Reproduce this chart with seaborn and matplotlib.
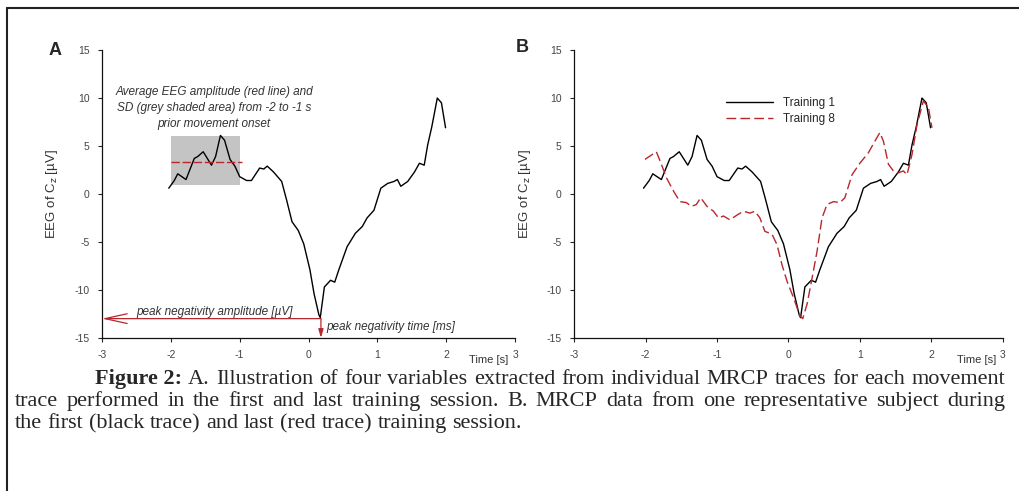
import numpy as np
import pandas as pd
import seaborn as sns
import matplotlib.pyplot as plt
from matplotlib.lines import Line2D

# MRCP trace, training session 1 (black)
t1_time = [-2.03, -1.95, -1.90, -1.78, -1.66, -1.61, -1.53, -1.41, -1.35, -1.28,
           -1.22, -1.14, -1.07, -1.00, -0.90, -0.83, -0.71, -0.65, -0.60, -0.51,
           -0.39, -0.32, -0.24, -0.15, -0.07, 0.02, 0.08, 0.15, 0.17, 0.23,
           0.32, 0.38, 0.44, 0.56, 0.68, 0.78, 0.85, 0.95, 1.05, 1.15,
           1.24, 1.29, 1.34, 1.44, 1.54, 1.61, 1.68, 1.73, 1.79, 1.87,
           1.93, 1.99]
t1_eeg = [0.6, 1.4, 2.1, 1.5, 3.7, 3.9, 4.4, 3.0, 3.9, 6.1,
          5.6, 3.6, 2.9, 1.8, 1.4, 1.4, 2.7, 2.6, 2.9, 2.3,
          1.3, -0.6, -2.9, -3.8, -5.2, -7.9, -10.4, -12.6, -12.9, -9.7,
          -9.0, -9.2, -7.9, -5.5, -4.1, -3.4, -2.5, -1.7, 0.6, 1.1,
          1.3, 1.5, 0.8, 1.3, 2.3, 3.2, 3.0, 5.1, 7.0, 10.0,
          9.5, 6.9]

# MRCP trace, training session 8 (red dashed)
t8_time = [-2.01, -1.85, -1.78, -1.71, -1.61, -1.52, -1.43, -1.36, -1.29, -1.23,
           -1.14, -1.05, -0.98, -0.91, -0.82, -0.72, -0.63, -0.54, -0.47, -0.40,
           -0.33, -0.23, -0.16, -0.09, -0.02, 0.07, 0.16, 0.20, 0.26, 0.33,
           0.40, 0.47, 0.54, 0.63, 0.72, 0.79, 0.89, 1.00, 1.12, 1.21,
           1.28, 1.33, 1.40, 1.47, 1.54, 1.61, 1.66, 1.73, 1.80, 1.89,
           1.96, 2.01]
t8_eeg = [3.6, 4.4, 3.1, 1.7, 0.3, -0.8, -0.9, -1.3, -1.1, -0.4,
          -1.3, -1.8, -2.5, -2.3, -2.7, -2.2, -1.8, -2.0, -1.8, -2.5,
          -3.9, -4.2, -5.3, -7.4, -9.1, -10.8, -12.7, -13.0, -11.5, -8.8,
          -6.0, -2.5, -1.1, -0.8, -0.9, -0.4, 2.0, 3.2, 4.3, 5.5,
          6.4, 5.5, 3.1, 2.4, 2.2, 2.4, 2.0, 4.1, 7.2, 9.7,
          9.0, 6.9]

# annotation values for panel A
win_start, win_end = -2.0, -1.0
mean_amp = 3.3
sd_low, sd_high = 0.9, 6.05
peak_time, peak_amp = 0.18, -13.0

x_ticks = [-3, -2, -1, 0, 1, 2, 3]
y_ticks = [-15, -10, -5, 0, 5, 10, 15]

caption_lines = [
    "A. Illustration of four variables extracted from individual MRCP "
    "traces for each movement",
    "trace performed in the first and last training session. B. MRCP "
    "data from one representative subject during",
    "the first (black trace) and last (red trace) training session.",
]

red = "#b8272c"
tick_grey = "#444444"

sns.set_style("ticks")
plt.rcParams["font.family"] = ["Liberation Sans", "DejaVu Sans"]
plt.rcParams["axes.unicode_minus"] = False

df1 = pd.DataFrame({"time": t1_time, "eeg": t1_eeg})
df8 = pd.DataFrame({"time": t8_time, "eeg": t8_eeg})

fig = plt.figure(figsize=(10.2, 4.91), dpi=100)
ax_a = fig.add_axes([0.100, 0.312, 0.405, 0.586])
ax_b = fig.add_axes([0.563, 0.312, 0.420, 0.586])


def style_axis(ax, label_x):
    ax.set_xlim(-3, 3)
    ax.set_ylim(-15, 15)
    ax.set_xticks(x_ticks)
    ax.set_yticks(y_ticks)
    ax.tick_params(direction="out", length=3, width=0.8, labelsize=7.5,
                   labelcolor=tick_grey, pad=6)
    for s in ["left", "bottom"]:
        ax.spines[s].set_linewidth(0.9)
        ax.spines[s].set_color("#111111")
    sns.despine(ax=ax)
    ax.set_xlabel("")
    ax.set_ylabel("EEG of C$_{\\rm z}$ [µV]", fontsize=9.5, color="#333333",
                  labelpad=10)
    ax.text(label_x, -0.06, "Time [s]", transform=ax.transAxes,
            ha="center", va="top", fontsize=8, color="#333333")


# panel A
ax_a.fill_between([win_start, win_end], sd_low, sd_high, color="#c4c4c4", lw=0)
sns.lineplot(data=df1, x="time", y="eeg", ax=ax_a, color="black", lw=1.0,
             sort=False, estimator=None)
ax_a.hlines(mean_amp, win_start, win_end + 0.03, color=red, lw=1.0,
            linestyles=(0, (6, 2)))
ax_a.annotate("", xy=(-3, peak_amp), xytext=(peak_time, peak_amp),
              arrowprops=dict(arrowstyle="->,head_length=1.6,head_width=0.35",
                              color=red, lw=0.9, shrinkA=0, shrinkB=0),
              annotation_clip=False)
ax_a.annotate("", xy=(peak_time, -15), xytext=(peak_time, peak_amp),
              arrowprops=dict(arrowstyle="-|>,head_length=0.5,head_width=0.15",
                              color=red, lw=0.9, shrinkA=0, shrinkB=0),
              annotation_clip=False)
ax_a.text(-1.37, 8.95, "Average EEG amplitude (red line) and\n"
          "SD (grey shaded area) from -2 to -1 s\nprior movement onset",
          ha="center", va="center", fontsize=8.5, style="italic",
          color="#333333", linespacing=1.45)
ax_a.text(-1.37, -12.35, "peak negativity amplitude [µV]", ha="center",
          va="center", fontsize=8.5, style="italic", color="#333333")
ax_a.text(0.26, -13.85, "peak negativity time [ms]", ha="left",
          va="center", fontsize=8.5, style="italic", color="#333333")
style_axis(ax_a, 0.935)

# panel B
sns.lineplot(data=df1, x="time", y="eeg", ax=ax_b, color="black", lw=1.0,
             sort=False, estimator=None)
sns.lineplot(data=df8, x="time", y="eeg", ax=ax_b, color=red, lw=1.0,
             sort=False, estimator=None, dashes=False, linestyle=(0, (7, 3)))
handles = [Line2D([], [], color="black", lw=1.0),
           Line2D([], [], color=red, lw=1.0, linestyle=(0, (7, 3)))]
ax_b.legend(handles, ["Training 1", "Training 8"], frameon=False,
            fontsize=8.5, loc="upper left", bbox_to_anchor=(0.33, 0.875),
            handlelength=4.0, labelspacing=0.35, handletextpad=0.8)
style_axis(ax_b, 0.94)

# panel letters
fig.text(55 / 1020, 1 - 50 / 491, "A", fontsize=13, fontweight="bold",
         ha="center", va="center")
fig.text(522 / 1020, 1 - 48 / 491, "B", fontsize=13, fontweight="bold",
         ha="center", va="center")

# caption, justified between x0 and x1 (pixels) like the journal text
serif = ["Liberation Serif", "DejaVu Serif"]
cap_size = 16
W, H = 1020, 491
fig.canvas.draw()
renderer = fig.canvas.get_renderer()


def text_width(s, **kw):
    t = fig.text(0, 0, s, family=serif, fontsize=cap_size, **kw)
    w = t.get_window_extent(renderer).width
    t.remove()
    return w


def put_line(words, x0, baseline, x1=None, first_bold=None):
    # draw words one by one; spread them to reach x1 if given
    items = []
    if first_bold:
        items.append(fig.text(0, 0, first_bold, family=serif, fontsize=cap_size,
                              fontweight="bold", va="baseline", ha="left"))
    for w in words:
        items.append(fig.text(0, 0, w, family=serif, fontsize=cap_size,
                              va="baseline", ha="left"))
    widths = [t.get_window_extent(renderer).width for t in items]
    sp = text_width("a a") - 2 * text_width("a")
    if x1 is not None:
        sp = (x1 - x0 - sum(widths)) / (len(items) - 1)
    x = x0
    for t, w in zip(items, widths):
        t.set_position((x / W, 1 - baseline / H))
        x += w + sp


put_line(caption_lines[0].split(), 95, 384, 1005, first_bold="Figure 2:")
put_line(caption_lines[1].split(), 15, 406, 1005)
put_line(caption_lines[2].split(), 15, 428)

# outer frame (top and left edges)
fig.add_artist(Line2D([7 / 1020, 7 / 1020], [0, 1 - 8 / 491],
                      transform=fig.transFigure, color="#222222", lw=1.5))
fig.add_artist(Line2D([7 / 1020, 1], [1 - 8 / 491, 1 - 8 / 491],
                      transform=fig.transFigure, color="#222222", lw=1.5))

fig.savefig("out.png", dpi=100, facecolor="white")
